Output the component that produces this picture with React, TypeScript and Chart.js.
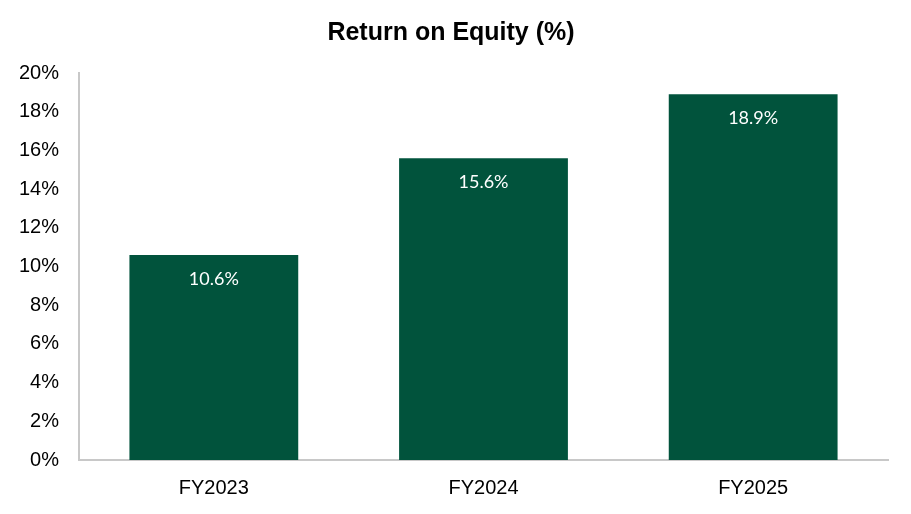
import { useEffect, useRef } from 'react'
import { Chart, registerables, Plugin } from 'chart.js'
Chart.register(...registerables)

const YEARS = ['FY2023', 'FY2024', 'FY2025']
const ROE = [10.6, 15.6, 18.9]
const Y_TICKS = [0, 2, 4, 6, 8, 10, 12, 14, 16, 18, 20]

const GREEN = '#01533c'
const AXIS = '#c8c8c8'
const SANS = "'Liberation Sans', Arial, sans-serif"

// white value label just under each bar's top
const valueLabels: Plugin<'bar'> = {
  id: 'valueLabels',
  afterDatasetsDraw(chart) {
    const { ctx } = chart
    const meta = chart.getDatasetMeta(0)
    ctx.save()
    ctx.fillStyle = '#fff'
    ctx.font = "18px Lato, 'Open Sans', sans-serif"
    ctx.textAlign = 'center'
    ctx.textBaseline = 'middle'
    meta.data.forEach((bar, i) => {
      ctx.fillText(ROE[i].toFixed(1) + '%', bar.x, bar.y + 24)
    })
    ctx.restore()
  },
}

export default function App() {
  const ref = useRef<HTMLCanvasElement>(null)

  useEffect(() => {
    if (!ref.current) return
    const chart = new Chart(ref.current, {
      type: 'bar',
      data: {
        labels: YEARS,
        datasets: [{ data: ROE, backgroundColor: GREEN, barPercentage: 0.626, categoryPercentage: 1 }],
      },
      options: {
        responsive: false,
        animation: false,
        layout: { padding: { left: 14, right: 23, top: 0, bottom: 0 } },
        plugins: {
          legend: { display: false },
          tooltip: { enabled: false },
          title: {
            display: true,
            text: 'Return on Equity (%)',
            color: '#000',
            font: { family: SANS, size: 25, weight: 'bold' },
            padding: { top: 18, bottom: 25 },
          },
        },
        scales: {
          x: {
            grid: { display: false, drawTicks: false },
            border: { color: AXIS, width: 2 },
            ticks: { color: '#000', font: { family: SANS, size: 20 }, padding: 16 },
            afterFit: (s: any) => { s.height = 54 },
          },
          y: {
            min: 0,
            max: 20,
            grid: { display: false, drawTicks: false },
            border: { color: AXIS, width: 2 },
            afterBuildTicks: (s: any) => { s.ticks = Y_TICKS.map(v => ({ value: v })) },
            ticks: { color: '#000', font: { family: SANS, size: 20 }, padding: 20, callback: (v) => v + '%' },
            afterFit: (s: any) => { s.width = 65 },
          },
        },
      },
      plugins: [valueLabels],
    })
    return () => chart.destroy()
  }, [])

  return (
    <div style={{ position: 'fixed', left: 0, top: 0, width: 911, height: 514, background: '#fff' }}>
      <canvas ref={ref} width={911} height={514} style={{ width: 911, height: 514 }} />
    </div>
  )
}
